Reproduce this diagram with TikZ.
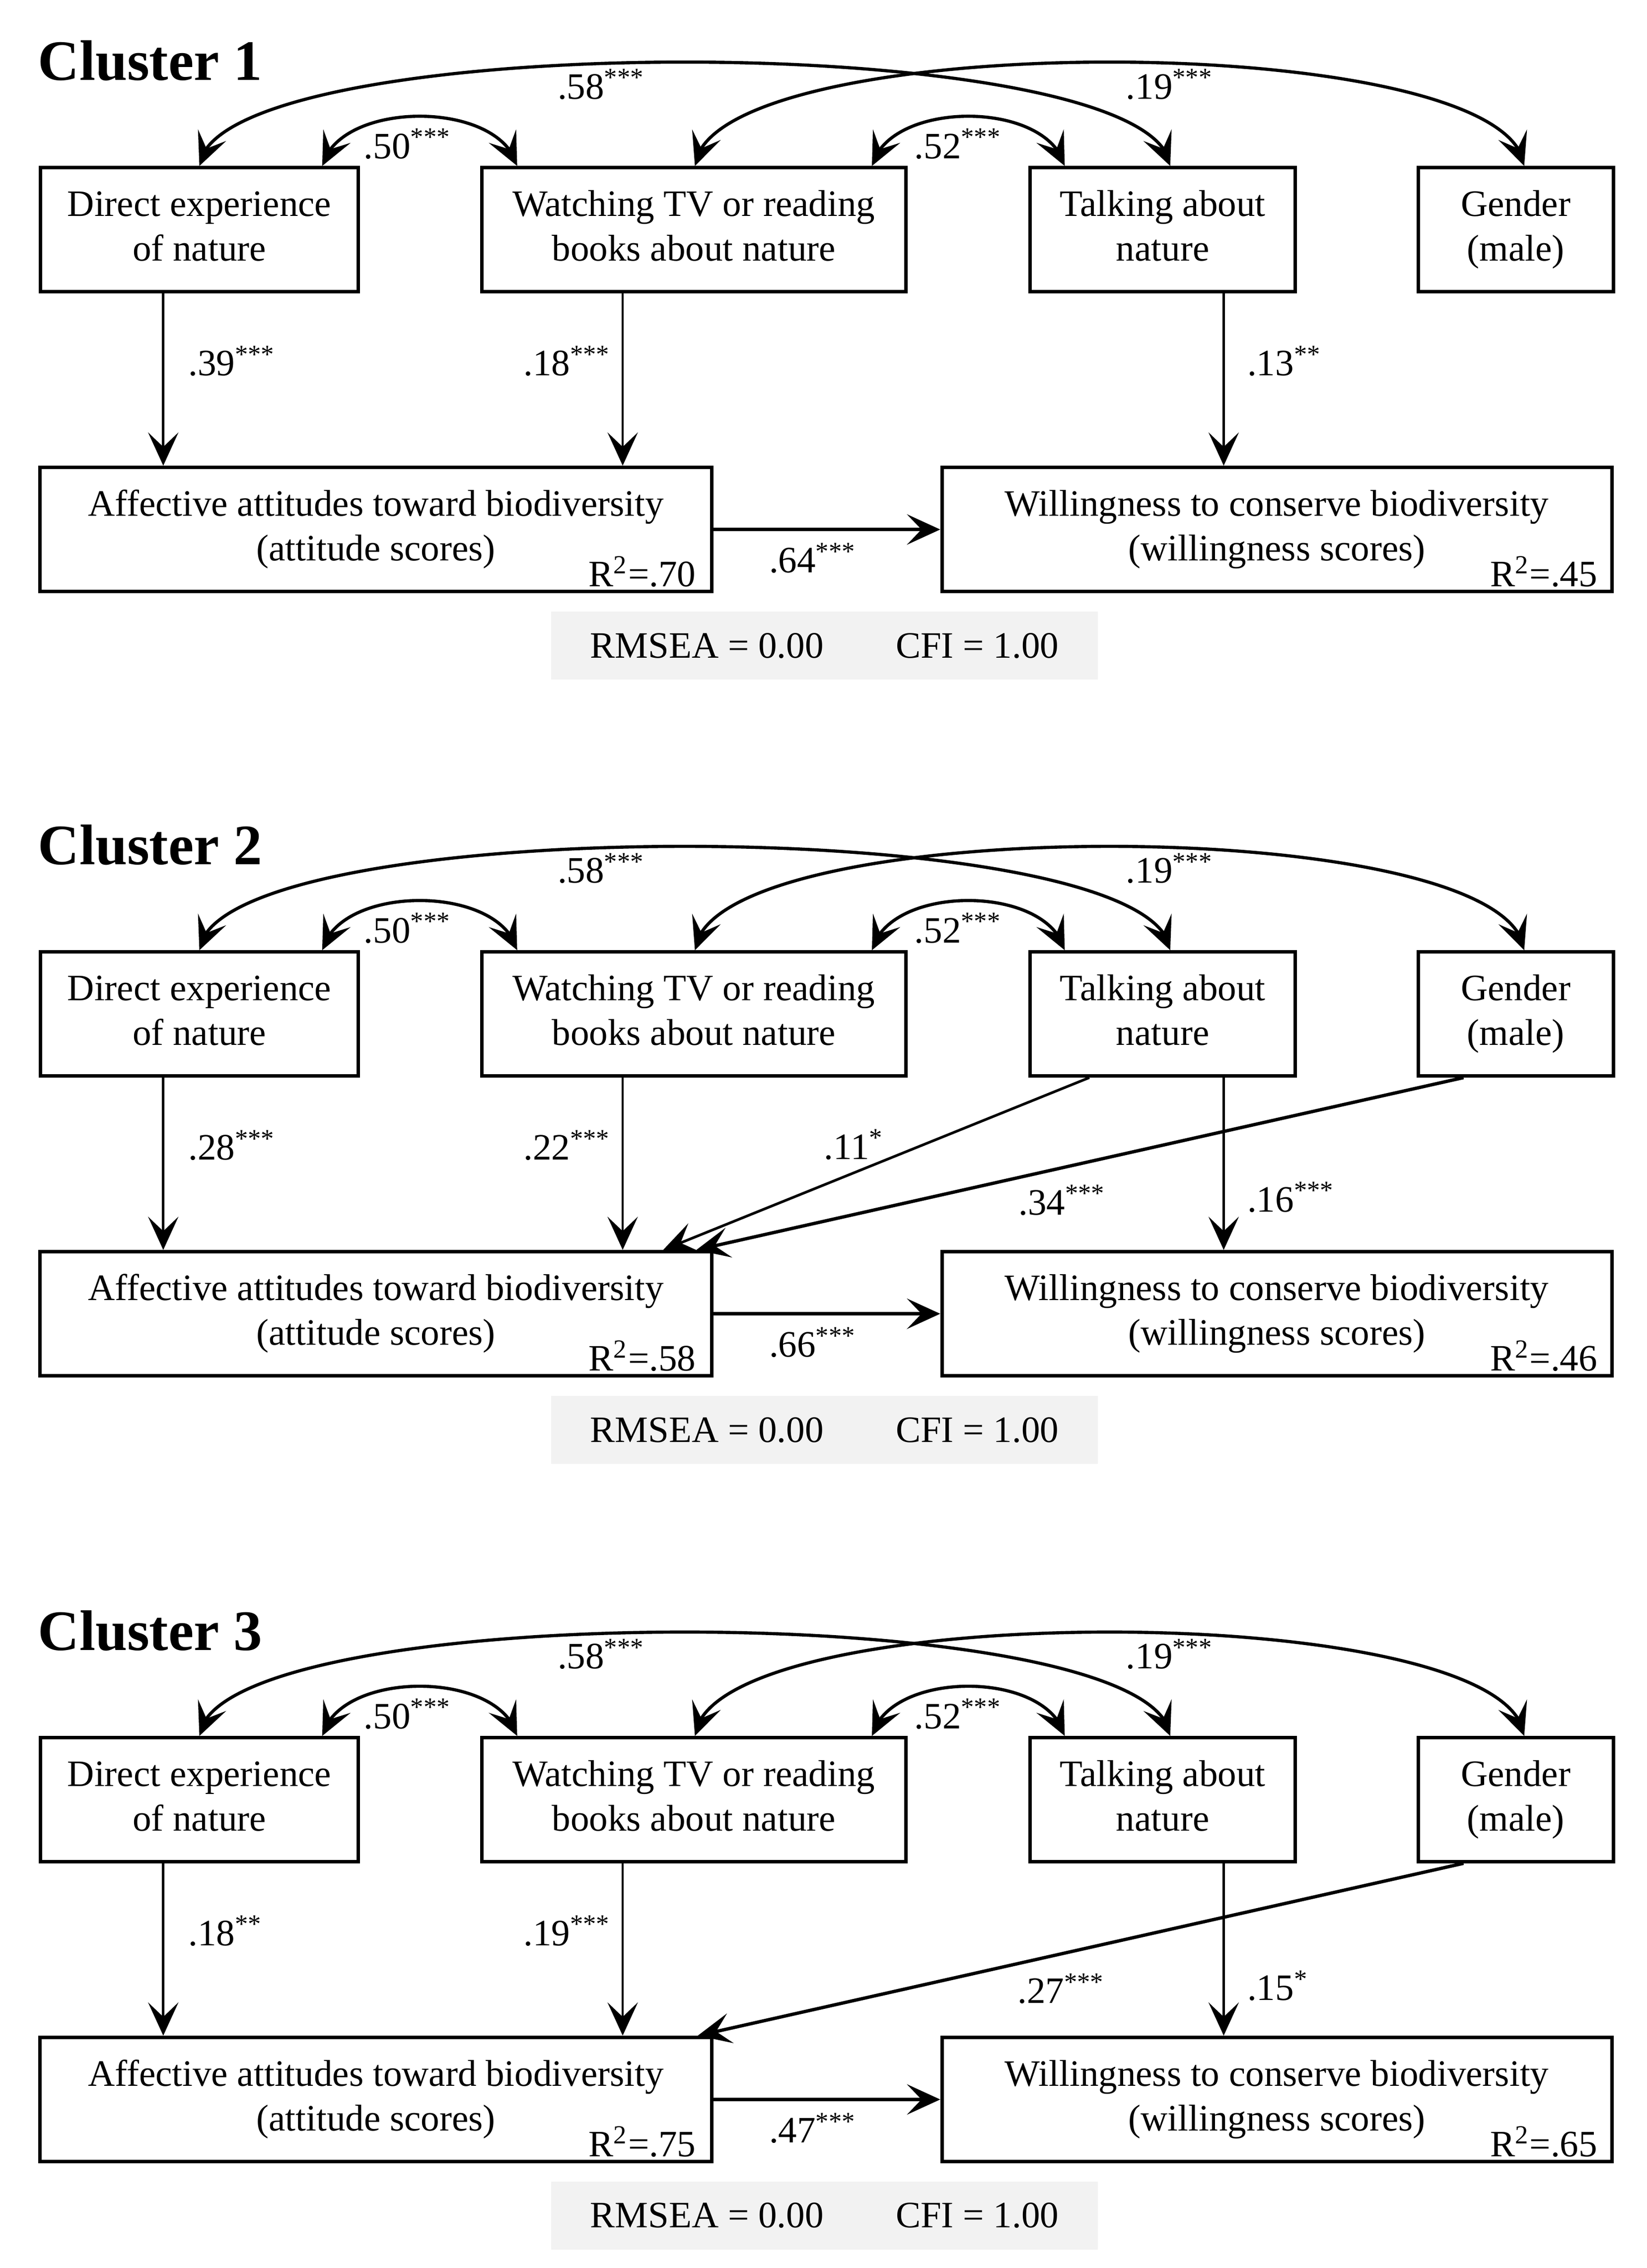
\documentclass[tikz,border=0pt]{standalone}
\usepackage{fontspec}
\setmainfont{Liberation Serif}
\usetikzlibrary{arrows.meta,bending}
\definecolor{fitgray}{HTML}{F2F2F2}
\newcommand{\sig}[1]{\textsuperscript{#1}}

\begin{document}
\begin{tikzpicture}[x=0.5pt,y=-0.5pt,>={Stealth[length=11.5pt,width=10.5pt,inset=5pt,flex=1]}]
    \tikzstyle{box}=[draw=black,line width=1.2pt,align=center,inner sep=0pt,minimum height=42.9pt,font=\fontsize{12.9}{15.5}\selectfont]
    \tikzstyle{coef}=[inner sep=0pt,anchor=base west,font=\fontsize{12.9}{15.5}\selectfont]
    \tikzstyle{title}=[inner sep=0pt,anchor=base west,font=\fontsize{19.8}{23}\selectfont\bfseries]
    \tikzstyle{fitbox}=[fill=fitgray,inner sep=0pt,minimum width=189.3pt,minimum height=23.5pt,font=\fontsize{12.9}{15.5}\selectfont]
    \tikzstyle{fwd}=[->,draw=black,line width=0.8pt]
    \tikzstyle{corr}=[<->,draw=black,line width=1.1pt]

    \useasboundingbox (0,0) rectangle (1140,1570.3);

    \foreach \c/\off/\kde/\ktv/\kaw/\rat/\rwi/\ky/\ktw in {
        1/0/.39\sig{***}/.18\sig{***}/.64\sig{***}/.70/.45/260/.13\sig{**},
        2/543/.28\sig{***}/.22\sig{***}/.66\sig{***}/.58/.46/296/.16\sig{***},
        3/1087/.18\sig{**}/.19\sig{***}/.47\sig{***}/.75/.65/298/.15\sig{*}}{
    \begin{scope}[yshift=-\off*0.5pt]
        \node[title] (title\c) at (26,55.6) {Cluster \c};

        \node[box,minimum width=110pt] (de\c) at (138,159) {\strut Direct experience\\\strut of nature};
        \node[box,minimum width=146.8pt] (tv\c) at (480.2,159) {\strut Watching TV or reading\\\strut books about nature};
        \node[box,minimum width=91.8pt] (talk\c) at (804.8,159) {\strut Talking about\\\strut nature};
        \node[box,minimum width=67.5pt] (gen\c) at (1049.2,159) {\strut Gender\\\strut (male)};
        \node[box,minimum width=232.6pt,minimum height=43pt] (att\c) at (260.2,366.6) {\strut Affective attitudes toward biodiversity\\\strut (attitude scores)};
        \node[box,minimum width=231.8pt,minimum height=43pt] (will\c) at (883.8,366.6) {\strut Willingness to conserve biodiversity\\\strut (willingness scores)};
        \node[coef,anchor=base east] (r2att\c) at (482,406) {R\sig{2}=\rat};
        \node[coef,anchor=base east] (r2will\c) at (1106,406) {R\sig{2}=\rwi};
        \node[fitbox] (fit\c) at (570.7,447) {RMSEA = 0.00\hspace{25pt}CFI = 1.00};

        % correlations
        \draw[corr] (de\c.north -| 138,0) .. controls (148,19) and (800,19) .. (talk\c.north -| 810,0);
        \draw[corr] (tv\c.north -| 481,0) .. controls (491,19) and (1045,19) .. (gen\c.north -| 1055,0);
        \draw[corr] (de\c.north -| 223,0) .. controls (235,69) and (346,69) .. (tv\c.north -| 358,0);
        \draw[corr] (tv\c.north -| 603.5,0) .. controls (615.5,69) and (725,69) .. (talk\c.north -| 737,0);
        \node[coef] (k58\c) at (385.6,68.4) {.58\sig{***}};
        \node[coef] (k19\c) at (779,68.4) {.19\sig{***}};
        \node[coef] (k50\c) at (251.5,109.7) {.50\sig{***}};
        \node[coef] (k52\c) at (632.6,109.7) {.52\sig{***}};

        % paths
        \draw[fwd] (de\c.south -| 113,0) -- (att\c.north -| 113,0);
        \draw[fwd] (tv\c.south -| 431,0) -- (att\c.north -| 431,0);
        \draw[fwd] (talk\c.south -| 847,0) -- (will\c.north -| 847,0);
        \draw[fwd,line width=1.3pt] (att\c.east) -- (will\c.west);
        \node[coef] (kde\c) at (130,260) {\kde};
        \node[coef] (ktv\c) at (362,260) {\ktv};
        \node[coef] (ktw\c) at (863,\ky) {\ktw};
        \node[coef] (kaw\c) at (532,396.5) {\kaw};
    \end{scope}
    }

    % extra paths of cluster 2 and 3
    \draw[fwd,line width=0.9pt] (talk2.south -| 754,0) -- (att2.north -| 459,0);
    \draw[fwd,line width=1.15pt] (gen2.south -| 1013,0) -- (att2.north -| 482,0);
    \node[coef] (k11) at (570,802.5) {.11\sig{*}};
    \node[coef] (k34) at (704.6,841) {.34\sig{***}};
    \draw[fwd,line width=1.15pt] (gen3.south -| 1013,0) -- (att3.north -| 483,0);
    \node[coef] (k27) at (704,1387) {.27\sig{***}};

\end{tikzpicture}
\end{document}
